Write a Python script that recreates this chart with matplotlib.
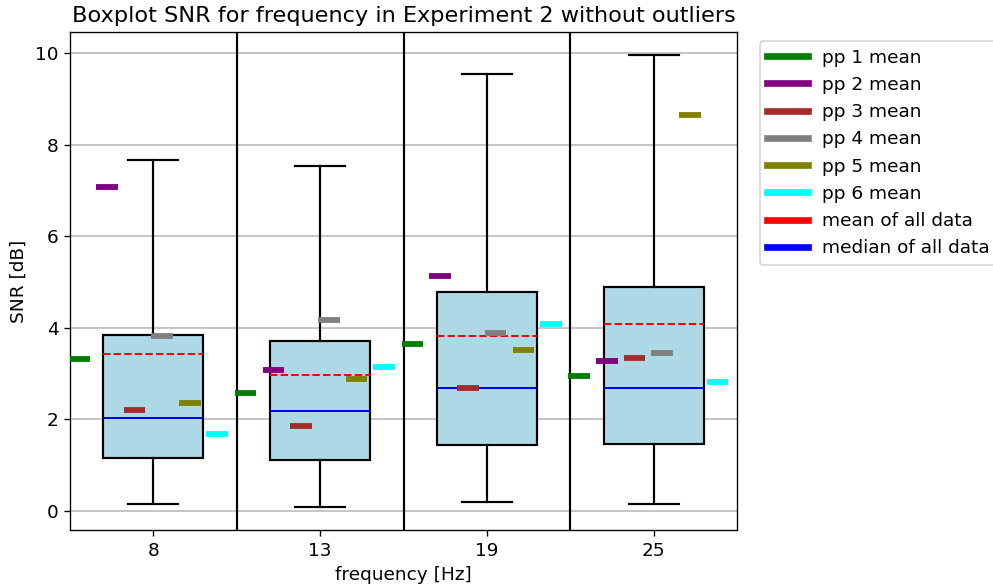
import matplotlib
matplotlib.use("Agg")
import matplotlib.pyplot as plt
from matplotlib.lines import Line2D
import numpy as np

plt.rcParams["font.size"] = 11.1

frequencies = ["8", "13", "19", "25"]
whisker_low = [0.15, 0.07, 0.18, 0.15]
q1 = [1.16, 1.10, 1.44, 1.46]
medians = [2.03, 2.18, 2.69, 2.67]
q3 = [3.83, 3.71, 4.78, 4.88]
whisker_high = [7.67, 7.54, 9.54, 9.97]
means_all = [3.42, 2.96, 3.82, 4.07]

pp_names = ["pp 1 mean", "pp 2 mean", "pp 3 mean", "pp 4 mean", "pp 5 mean", "pp 6 mean"]
pp_colors = ["green", "purple", "brown", "gray", "olive", "cyan"]
pp_means = [
    [3.31, 2.58, 3.65, 2.95],   # pp1
    [7.08, 3.08, 5.13, 3.28],   # pp2
    [2.21, 1.85, 2.69, 3.34],   # pp3
    [3.82, 4.17, 3.88, 3.44],   # pp4
    [2.35, 2.88, 3.51, 8.64],   # pp5
    [1.67, 3.15, 4.07, 2.82],   # pp6
]

fig = plt.figure(figsize=(993 / 120, 588 / 120), dpi=120)
ax = fig.add_axes([0.0705, 0.0986, 0.6717, 0.847])

positions = np.arange(1, len(frequencies) + 1)
stats = []
for i in range(len(frequencies)):
    stats.append(dict(whislo=whisker_low[i], q1=q1[i], med=medians[i], q3=q3[i],
                      whishi=whisker_high[i], mean=means_all[i], fliers=[], label=frequencies[i]))

box_w = 0.6
ax.bxp(stats, positions=positions, widths=box_w, patch_artist=True, showmeans=True,
       meanline=True, showfliers=False,
       boxprops=dict(facecolor="lightblue", edgecolor="black", linewidth=1.3),
       medianprops=dict(color="blue", linewidth=1.2),
       meanprops=dict(color="red", linestyle="--", linewidth=1.2),
       whiskerprops=dict(color="black", linewidth=1.3),
       capprops=dict(color="black", linewidth=1.3))

offsets = [-0.447, -0.28, -0.114, 0.052, 0.219, 0.383]
mark_w = 0.13
for k in range(len(pp_names)):
    for i, p in enumerate(positions):
        c = p + offsets[k]
        ax.plot([c - mark_w / 2, c + mark_w / 2], [pp_means[k][i]] * 2,
                color=pp_colors[k], linewidth=3.5, solid_capstyle="butt", zorder=3)

for p in positions[:-1]:
    ax.axvline(p + 0.5, color="black", linewidth=1.3)

ax.set_xlim(0.5, len(frequencies) + 0.5)
ax.set_xticks(positions)
ax.set_xticklabels(frequencies)
ax.yaxis.grid(True, color="#bbbbbb", linewidth=1.0)
ax.set_axisbelow(True)
ax.set_xlabel("frequency [Hz]")
ax.set_ylabel("SNR [dB]")
ax.set_title("Boxplot SNR for frequency in Experiment 2 without outliers", fontsize=13.4)

handles = [Line2D([0], [0], color=c, linewidth=4) for c in pp_colors]
handles += [Line2D([0], [0], color="red", linewidth=4), Line2D([0], [0], color="blue", linewidth=4)]
labels = pp_names + ["mean of all data", "median of all data"]
ax.legend(handles, labels, loc="upper left", bbox_to_anchor=(1.02, 1), labelspacing=0.5,
          handlelength=2.2)

fig.savefig("out.png", dpi=120)
